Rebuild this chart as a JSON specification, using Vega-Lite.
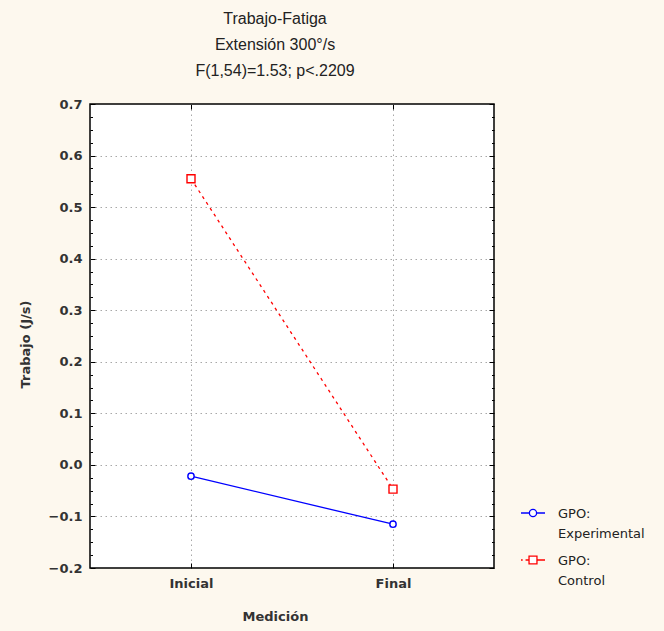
{
  "$schema": "https://vega.github.io/schema/vega-lite/v6.json",
  "width": 404,
  "height": 464,
  "autosize": {"type": "none"},
  "padding": {"left": 90, "top": 104, "right": 170, "bottom": 63},
  "background": "#fdf8ee",
  "config": {
    "view": {"stroke": "black", "strokeWidth": 1.5, "fill": "white"}
  },
  "title": {
    "text": ["Trabajo-Fatiga", "Extensión 300°/s", "F(1,54)=1.53; p<.2209"],
    "font": "Liberation Sans",
    "fontSize": 16,
    "fontWeight": "normal",
    "lineHeight": 26,
    "color": "#222222",
    "offset": 19,
    "dx": -17,
    "anchor": "middle"
  },
  "data": {
    "values": [
      {"med": "Inicial", "grp": "Experimental", "v": -0.022},
      {"med": "Final", "grp": "Experimental", "v": -0.115},
      {"med": "Inicial", "grp": "Control", "v": 0.555},
      {"med": "Final", "grp": "Control", "v": -0.047}
    ]
  },
  "layer": [
    {
      "encoding": {
        "x": {
          "field": "med", "type": "nominal", "sort": ["Inicial", "Final"],
          "scale": {"type": "point", "padding": 0.5},
          "axis": {
            "title": "Medición", "titleFont": "DejaVu Sans", "titleFontSize": 13, "titleFontWeight": "bold", "titleColor": "#333333",
            "titleX": 185, "titleY": 42, "titleBaseline": "top",
            "labelFont": "DejaVu Sans", "labelFontSize": 13, "labelFontWeight": "bold", "labelColor": "#333333", "labelAngle": 0,
            "labelPadding": 14, "tickSize": -5, "tickColor": "black", "domain": false,
            "grid": true, "gridColor": "#a8a8a8", "gridDash": [1.5, 3.5], "gridWidth": 1
          }
        },
        "y": {
          "field": "v", "type": "quantitative",
          "scale": {"domain": [-0.2, 0.7], "nice": false, "zero": false},
          "axis": {
            "title": "Trabajo (J/s)", "titleFont": "DejaVu Sans", "titleFontSize": 13, "titleFontWeight": "bold", "titleColor": "#333333",
            "titleX": -58, "titleY": 240,
            "values": [-0.2, -0.175, -0.15, -0.125, -0.1, -0.075, -0.05, -0.025, 0, 0.025, 0.05, 0.075, 0.1, 0.125, 0.15, 0.175, 0.2, 0.225, 0.25, 0.275, 0.3, 0.325, 0.35, 0.375, 0.4, 0.425, 0.45, 0.475, 0.5, 0.525, 0.55, 0.575, 0.6, 0.625, 0.65, 0.675, 0.7],
            "labelExpr": "abs(datum.value*10 - round(datum.value*10)) < 0.01 ? format(datum.value, '.1f') : ''",
            "labelFont": "DejaVu Sans", "labelFontSize": 13, "labelFontWeight": "bold", "labelColor": "#333333",
            "labelPadding": 13,
            "tickSize": {"condition": {"test": "abs(datum.value*10 - round(datum.value*10)) < 0.01", "value": -5}, "value": -2.5},
            "tickColor": "black", "domain": false,
            "grid": true, "gridColor": "#a8a8a8", "gridDash": [1.5, 3.5], "gridWidth": 1,
            "gridOpacity": {"condition": {"test": "abs(datum.value*10 - round(datum.value*10)) < 0.01 && datum.value > -0.15 && datum.value < 0.65", "value": 1}, "value": 0}
          }
        },
        "color": {
          "field": "grp", "type": "nominal",
          "scale": {"domain": ["Experimental", "Control"], "range": ["#0000ff", "#ff0000"]},
          "legend": {
            "title": null, "orient": "none", "legendX": 430, "legendY": 396,
            "labelFont": "DejaVu Sans", "labelFontSize": 13, "labelColor": "#222222",
            "labelExpr": "['GPO:', datum.label]",
            "labelBaseline": "top", "labelOffset": 12, "labelLimit": 200,
            "symbolSize": 576, "symbolStrokeWidth": 1.3, "rowPadding": 6,
            "symbolType": "M-1,0H-0.3M0.3,0H1M0.3,0A0.3,0.3 0 1,1 -0.3,0A0.3,0.3 0 1,1 0.3,0Z",
            "symbolFillColor": "white",
            "encode": {
              "symbols": {"update": {
                "shape": {"signal": "datum.value === 'Experimental' ? 'M-1,0H-0.3M0.3,0H1M0.3,0A0.3,0.3 0 1,1 -0.3,0A0.3,0.3 0 1,1 0.3,0Z' : 'M-1,0H-0.86M-0.62,0H-0.33M0.33,0H1M-0.33,-0.33H0.33V0.33H-0.33Z'"},
                "fill": {"value": "white"},
                "fillOpacity": {"value": 1},
                "size": {"value": 576}
              }},
              "labels": {"update": {"dy": {"value": -5}, "lineHeight": {"value": 20}}}
            }
          }
        }
      },
      "layer": [
        {
          "transform": [{"filter": "datum.grp === 'Experimental'"}],
          "mark": {"type": "line", "strokeWidth": 1.3}
        },
        {
          "transform": [{"filter": "datum.grp === 'Control'"}],
          "mark": {"type": "line", "strokeWidth": 1.3, "strokeDash": [3, 4]}
        },
        {
          "transform": [{"filter": "datum.grp === 'Experimental'"}],
          "mark": {"type": "point", "shape": "circle", "size": 40, "filled": false, "fill": "white", "fillOpacity": 1, "strokeWidth": 1.4, "opacity": 1}
        },
        {
          "transform": [{"filter": "datum.grp === 'Control'"}],
          "mark": {"type": "point", "shape": "square", "size": 64, "filled": false, "fill": "white", "fillOpacity": 1, "strokeWidth": 1.4, "opacity": 1}
        }
      ]
    },
    {
      "mark": {"type": "point", "opacity": 0},
      "encoding": {
        "x": {
          "field": "med", "type": "nominal", "sort": ["Inicial", "Final"],
          "scale": {"type": "point", "padding": 0.5},
          "axis": {"orient": "top", "title": null, "labels": false, "tickSize": -5, "tickColor": "black", "domain": false, "grid": false}
        },
        "y": {
          "field": "v", "type": "quantitative",
          "scale": {"domain": [-0.2, 0.7], "nice": false, "zero": false},
          "axis": {
            "orient": "right", "title": null, "labels": false, "domain": false, "grid": false, "tickColor": "black",
            "values": [-0.2, -0.175, -0.15, -0.125, -0.1, -0.075, -0.05, -0.025, 0, 0.025, 0.05, 0.075, 0.1, 0.125, 0.15, 0.175, 0.2, 0.225, 0.25, 0.275, 0.3, 0.325, 0.35, 0.375, 0.4, 0.425, 0.45, 0.475, 0.5, 0.525, 0.55, 0.575, 0.6, 0.625, 0.65, 0.675, 0.7],
            "tickSize": {"condition": {"test": "abs(datum.value*10 - round(datum.value*10)) < 0.01", "value": -5}, "value": -2.5}
          }
        }
      }
    }
  ],
  "resolve": {"scale": {"x": "independent", "y": "independent"}}
}
